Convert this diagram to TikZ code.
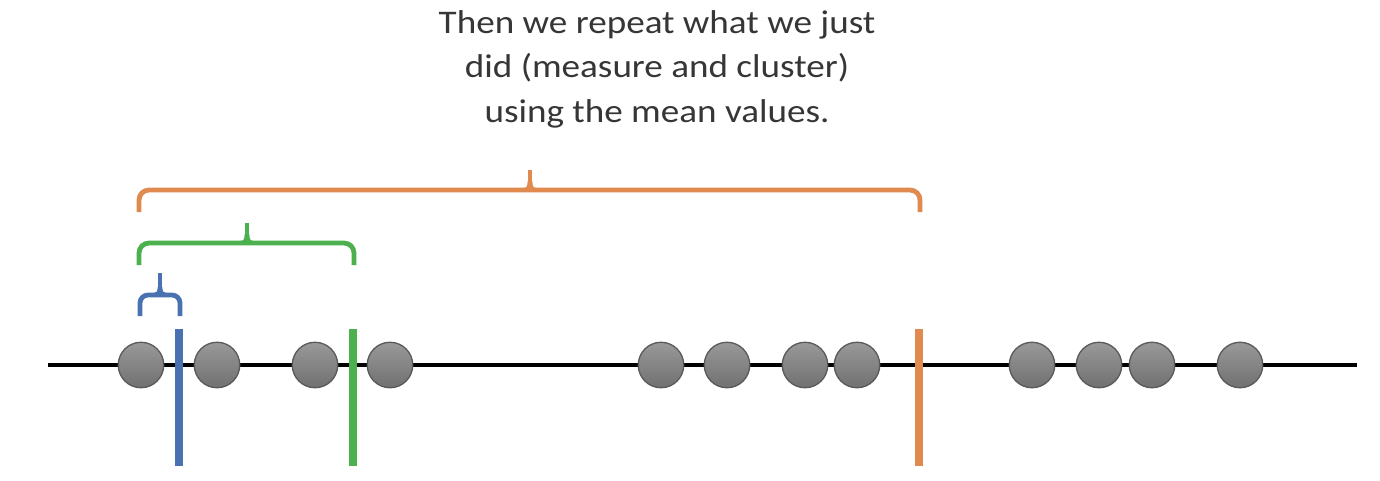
\documentclass[tikz,border=0pt]{standalone}
\usepackage{fontspec}
\setmainfont{Carlito}
\definecolor{bblue}{HTML}{4A72B0}
\definecolor{bgreen}{HTML}{4DB04F}
\definecolor{borange}{HTML}{E08A50}
\definecolor{txtc}{HTML}{363636}
\begin{document}
\begin{tikzpicture}[x=1pt,y=-1pt,
  dot/.style={circle,draw=black!65,line width=1.3pt,minimum size=45.5pt,inner sep=0pt,top color=black!40,bottom color=black!56},
  bar/.style={line width=8pt},
  brace/.style={line width=4.8pt,rounded corners=10pt,line cap=butt},
  stub/.style={line width=4.8pt,line cap=butt},
  caption/.style={anchor=base,text=txtc,font=\fontsize{33}{44}\selectfont,inner sep=0pt}]
\useasboundingbox (0,0) rectangle (1380,480);
\fill[white] (0,0) rectangle (1380,480);
% text
\node[caption] (t1) at (657,33) {\scalebox{1.125}[1]{Then we repeat what we just}};
\node[caption] (t2) at (657,77.5) {\scalebox{1.125}[1]{did (measure and cluster)}};
\node[caption] (t3) at (657,122) {\scalebox{1.125}[1]{using the mean values.}};
% axis
\coordinate (la) at (48,365);
\coordinate (lb) at (1357,365);
\draw[line width=4.5pt] (la) -- (lb);
% bars
\coordinate (b1t) at (179,329); \coordinate (b1b) at (179,466);
\coordinate (b2t) at (353,329); \coordinate (b2b) at (353,466);
\coordinate (b3t) at (919,329); \coordinate (b3b) at (919,466);
% dots
\foreach \n/\x in {1/141,2/217,3/315,4/390,5/661,6/727,7/805,8/857,9/1032,10/1099,11/1152,12/1240}
  \node[dot] (c\n) at (\x,365) {};
% bars on top
\draw[bar,bblue] (b1t) -- (b1b);
\draw[bar,bgreen] (b2t) -- (b2b);
\draw[bar,borange] (b3t) -- (b3b);
% orange brace
\coordinate (oL) at (139,212); \coordinate (oR) at (920,212);
\coordinate (oM) at (530,190); \coordinate (oT) at (530,170);
\draw[brace,borange] (oL) -- (139,190) -- (920,190) -- (oR);
\draw[stub,borange] (oM) -- (oT);
\fill[borange] (523,188) .. controls (527,188) and (527.6,186) .. (527.6,181) -- (532.4,181) .. controls (532.4,186) and (533,188) .. (537,188) -- cycle;
% green brace
\coordinate (gL) at (139,265); \coordinate (gR) at (354,265);
\coordinate (gM) at (247,243); \coordinate (gT) at (247,223);
\draw[brace,bgreen] (gL) -- (139,243) -- (354,243) -- (gR);
\draw[stub,bgreen] (gM) -- (gT);
\fill[bgreen] (240,241) .. controls (244,241) and (244.6,239) .. (244.6,234) -- (249.4,234) .. controls (249.4,239) and (250,241) .. (254,241) -- cycle;
% blue brace
\coordinate (uL) at (140,316); \coordinate (uR) at (180,316);
\coordinate (uM) at (160,295); \coordinate (uT) at (160,273);
\draw[brace,bblue,rounded corners=8pt] (uL) -- (140,295) -- (180,295) -- (uR);
\draw[stub,bblue] (uM) -- (uT);
\fill[bblue] (154,293) .. controls (157,293) and (157.6,291) .. (157.6,287) -- (162.4,287) .. controls (162.4,291) and (163,293) .. (166,293) -- cycle;
\end{tikzpicture}
\end{document}
